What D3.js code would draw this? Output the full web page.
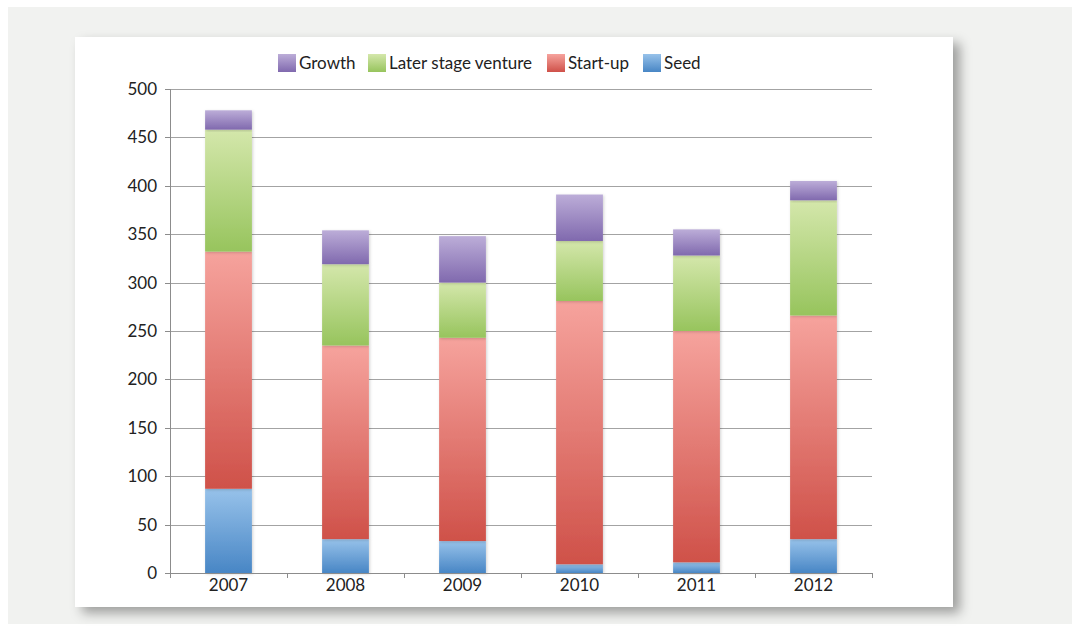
<!DOCTYPE html>
<html>
<head>
<meta charset="utf-8">
<script src="https://cdn.jsdelivr.net/npm/d3@7"></script>
<style>
  html, body { margin: 0; padding: 0; background: #ffffff; }
  svg { display: block; }
  text { font-family: Lato, "Open Sans", sans-serif; fill: #222222; }
</style>
</head>
<body>
<svg id="chart" width="1077" height="630"></svg>
<script>
// Investment by stage, per year
const years = ["2007", "2008", "2009", "2010", "2011", "2012"];
const seed = [87, 35, 33, 9, 11, 35];
const startUp = [245, 200, 210, 272, 239, 231];
const laterStage = [126, 84, 57, 62, 78, 119];
const growth = [20, 35, 48, 48, 27, 20];
const yTicks = [0, 50, 100, 150, 200, 250, 300, 350, 400, 450, 500];

const seriesNames = ["Seed", "Start-up", "Later stage venture", "Growth"];
const seriesValues = [seed, startUp, laterStage, growth];
const legendOrder = ["Growth", "Later stage venture", "Start-up", "Seed"];
const gradientStops = {
  "Seed": ["#97c2ea", "#4886c5"],
  "Start-up": ["#f6a39d", "#cf5149"],
  "Later stage venture": ["#d4e7ab", "#97c45d"],
  "Growth": ["#bcadd8", "#8069ae"]
};

const FONT_SIZE = 17;

const svg = d3.select("#chart");
const defs = svg.append("defs");

// gradients (one per series, top light to bottom dark)
seriesNames.forEach((name, i) => {
  const g = defs.append("linearGradient")
    .attr("id", "grad" + i)
    .attr("x1", 0).attr("y1", 0).attr("x2", 0).attr("y2", 1);
  g.append("stop").attr("offset", "0%").attr("stop-color", gradientStops[name][0]);
  g.append("stop").attr("offset", "100%").attr("stop-color", gradientStops[name][1]);
});

// card shadow
const cardShadow = defs.append("filter").attr("id", "cardShadow")
  .attr("x", "-5%").attr("y", "-5%").attr("width", "115%").attr("height", "120%");
cardShadow.append("feDropShadow")
  .attr("dx", 7).attr("dy", 6).attr("stdDeviation", 6)
  .attr("flood-color", "#000").attr("flood-opacity", 0.35);

// soft glow around bars
const barShadow = defs.append("filter").attr("id", "barShadow")
  .attr("x", "-30%").attr("y", "-10%").attr("width", "160%").attr("height", "120%");
barShadow.append("feDropShadow")
  .attr("dx", 1).attr("dy", 1).attr("stdDeviation", 1.5)
  .attr("flood-color", "#000").attr("flood-opacity", 0.18);

// page panel and white card
svg.append("rect").attr("x", 8).attr("y", 7).attr("width", 1064).attr("height", 617)
  .attr("fill", "#f1f2f0");
svg.append("rect").attr("x", 75).attr("y", 37).attr("width", 878).attr("height", 570)
  .attr("fill", "#ffffff").attr("filter", "url(#cardShadow)");

const plotLeft = 170, plotRight = 872, plotTop = 89, plotBottom = 573;

const x = d3.scaleBand().domain(years).range([plotLeft, plotRight])
  .paddingInner(0.6).paddingOuter(0.3);
const y = d3.scaleLinear().domain([0, 500]).range([plotBottom, plotTop]);

// gridlines
svg.append("g")
  .attr("transform", `translate(${plotLeft},0)`)
  .call(d3.axisLeft(y).tickValues(yTicks).tickSize(-(plotRight - plotLeft)).tickFormat(""))
  .call(g => g.select(".domain").remove())
  .call(g => g.selectAll("line").attr("stroke", "#a3a3a3").attr("shape-rendering", "crispEdges"));

// stacked data
const table = years.map((yr, i) => {
  const row = { year: yr };
  seriesNames.forEach((s, k) => row[s] = seriesValues[k][i]);
  return row;
});
const stacked = d3.stack().keys(seriesNames)(table);

const layers = svg.append("g").selectAll("g")
  .data(stacked).join("g")
  .attr("fill", (d, i) => `url(#grad${i})`);

layers.selectAll("rect")
  .data(d => d).join("rect")
  .attr("x", d => x(d.data.year))
  .attr("width", x.bandwidth())
  .attr("y", d => y(d[1]))
  .attr("height", d => y(d[0]) - y(d[1]))
  .attr("filter", "url(#barShadow)");

// y axis
const yAxis = svg.append("g")
  .attr("transform", `translate(${plotLeft},0)`)
  .call(d3.axisLeft(y).tickValues(yTicks).tickSize(5).tickPadding(8))
  .call(g => g.select(".domain").remove());
yAxis.selectAll("line").attr("stroke", "#8c8c8c").attr("shape-rendering", "crispEdges");
yAxis.selectAll("text").attr("font-size", FONT_SIZE).attr("fill", "#222222")
  .style("font-family", "Lato, 'Open Sans', sans-serif");

svg.append("line")
  .attr("x1", plotLeft).attr("x2", plotLeft).attr("y1", plotTop).attr("y2", plotBottom)
  .attr("stroke", "#8c8c8c").attr("shape-rendering", "crispEdges");

// x axis: baseline, boundary ticks, labels
svg.append("line")
  .attr("x1", plotLeft).attr("x2", plotRight).attr("y1", plotBottom).attr("y2", plotBottom)
  .attr("stroke", "#8c8c8c").attr("shape-rendering", "crispEdges");

const step = x.step();
const boundaries = years.map(yr => x(yr) - (step - x.bandwidth()) / 2).concat([plotRight]);
svg.append("g").selectAll("line")
  .data(boundaries).join("line")
  .attr("x1", d => d).attr("x2", d => d)
  .attr("y1", plotBottom).attr("y2", plotBottom + 5)
  .attr("stroke", "#8c8c8c").attr("shape-rendering", "crispEdges");

svg.append("g").selectAll("text")
  .data(years).join("text")
  .attr("x", d => x(d) + x.bandwidth() / 2)
  .attr("y", 591)
  .attr("text-anchor", "middle")
  .attr("font-size", FONT_SIZE)
  .text(d => d);

// legend
const legendX = { "Growth": 278, "Later stage venture": 368, "Start-up": 547, "Seed": 643 };
const legend = svg.append("g").selectAll("g")
  .data(legendOrder).join("g")
  .attr("transform", d => `translate(${legendX[d]},54)`);
legend.append("rect")
  .attr("width", 18).attr("height", 18)
  .attr("fill", d => `url(#grad${seriesNames.indexOf(d)})`);
legend.append("text")
  .attr("x", 21).attr("y", 15)
  .attr("font-size", FONT_SIZE)
  .text(d => d);
</script>
</body>
</html>
